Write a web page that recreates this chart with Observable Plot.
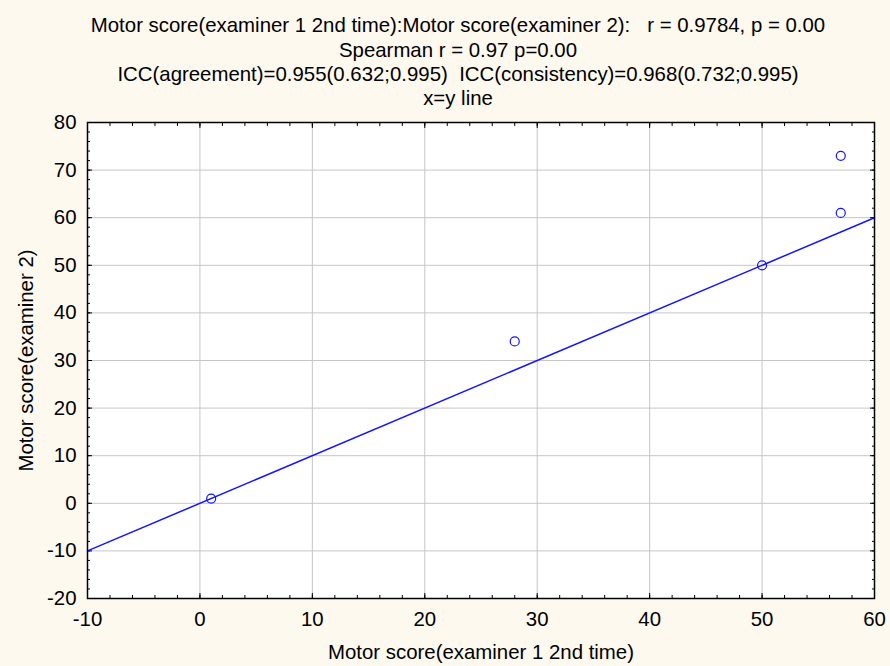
<!DOCTYPE html>
<html><head><meta charset="utf-8">
<script src="https://cdn.jsdelivr.net/npm/d3@7"></script>
<script src="https://cdn.jsdelivr.net/npm/@observablehq/plot@0.6"></script>
<style>
body{margin:0;background:#fdf9ef;}
#wrap{position:relative;width:890px;height:666px;font-family:"Liberation Sans",Arial,sans-serif;}
.t{position:absolute;left:0;width:916px;white-space:pre;text-align:center;font-size:20.4px;line-height:24px;color:#000;}
#chart{position:absolute;left:0;top:0;}
</style></head>
<body>
<div id="wrap">
<div id="chart"></div>
<div class="t" id="l1" style="top:13px"></div>
<div class="t" id="l2" style="top:38px"></div>
<div class="t" id="l3" style="top:62px"></div>
<div class="t" id="l4" style="top:86px"></div>
</div>
<script>
const titleLines = [
  "Motor score(examiner 1 2nd time):Motor score(examiner 2):   r = 0.9784, p = 0.00",
  "Spearman r = 0.97 p=0.00",
  "ICC(agreement)=0.955(0.632;0.995)  ICC(consistency)=0.968(0.732;0.995)",
  "x=y line"
];
const xLabel = "Motor score(examiner 1 2nd time)";
const yLabel = "Motor score(examiner 2)";
const examiner1 = [1, 28, 50, 57, 57];
const examiner2 = [1, 34, 50, 61, 73];
const xTicks = [-10, 0, 10, 20, 30, 40, 50, 60];
const yTicks = [-20, -10, 0, 10, 20, 30, 40, 50, 60, 70, 80];
const identityLine = [-10, 60];

titleLines.forEach((t, i) => document.getElementById("l" + (i + 1)).textContent = t);

const xMinor = d3.range(-10, 60.001, 2);
const yMinor = d3.range(-20, 80.001, 2);
const points = examiner1.map((x, i) => ({x, y: examiner2[i]}));
const blue = "#1414ff";
const font = "20.4px";
const fmt = d => String(d);

const chart = Plot.plot({
  width: 890, height: 666,
  marginLeft: 87, marginRight: 16, marginTop: 122, marginBottom: 68,
  style: {background: "transparent", fontFamily: "'Liberation Sans', Arial, sans-serif", fontSize: font, color: "black"},
  x: {domain: [-10, 60]},
  y: {domain: [-20, 80]},
  marks: [
    Plot.frame({fill: "white", stroke: null}),
    Plot.gridX(xTicks, {stroke: "#c6c6c6", strokeOpacity: 1}),
    Plot.gridY(yTicks, {stroke: "#c6c6c6", strokeOpacity: 1}),
    Plot.axisX(xTicks, {anchor: "bottom", tickSize: 0, tickPadding: 13, fontSize: font, tickFormat: fmt, label: xLabel, labelAnchor: "center", labelOffset: 60, labelArrow: "none"}),
    Plot.axisY(yTicks, {anchor: "left", tickSize: 0, tickPadding: 11, fontSize: font, tickFormat: fmt, label: yLabel, labelAnchor: "center", labelOffset: 69, labelArrow: "none"}),
    Plot.axisX(xMinor, {anchor: "bottom", tickSize: -3, text: null, label: null}),
    Plot.axisX(xTicks, {anchor: "bottom", tickSize: -5, text: null, label: null}),
    Plot.axisX(xMinor, {anchor: "top", tickSize: -3, text: null, label: null}),
    Plot.axisX(xTicks, {anchor: "top", tickSize: -5, text: null, label: null}),
    Plot.axisY(yMinor, {anchor: "left", tickSize: -3, text: null, label: null}),
    Plot.axisY(yTicks, {anchor: "left", tickSize: -5, text: null, label: null}),
    Plot.axisY(yMinor, {anchor: "right", tickSize: -3, text: null, label: null}),
    Plot.axisY(yTicks, {anchor: "right", tickSize: -5, text: null, label: null}),
    Plot.line(identityLine, {x: d => d, y: d => d, stroke: blue, strokeWidth: 1.5}),
    Plot.dot(points, {x: "x", y: "y", r: 4.5, stroke: blue, strokeWidth: 1.2, fill: "none"}),
    Plot.frame({stroke: "black", strokeWidth: 1.5})
  ]
});
document.getElementById("chart").append(chart);
</script>
</body></html>
